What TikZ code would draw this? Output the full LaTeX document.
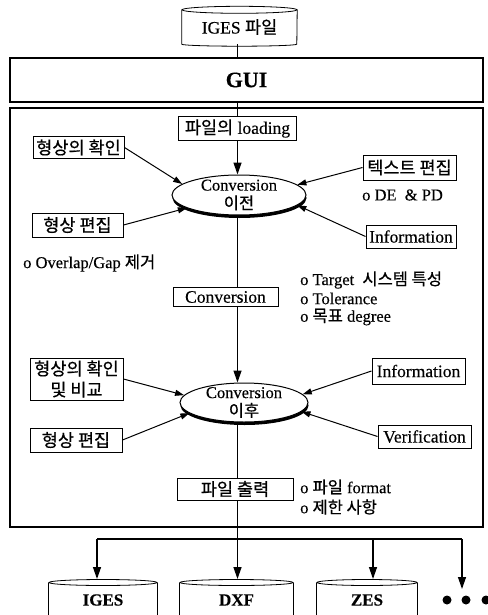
\documentclass[tikz,border=0pt]{standalone}
\usepackage{fontspec}
\setmainfont[FakeBold=0.35]{Liberation Serif}
\newfontfamily\krfont[FakeBold=0.6]{Noto Sans CJK KR}
\newcommand\ko[1]{{\krfont #1}}
\usetikzlibrary{arrows.meta,shapes.geometric,shadows}
\begin{document}
\begin{tikzpicture}[x=1pt,y=-1pt,
  lbl/.style={font=\fontsize{16.5}{18}\selectfont, inner sep=0pt, anchor=west},
  smallbox/.style={draw, line width=1pt, inner sep=0pt, align=center,
    font=\fontsize{17.5}{21}\selectfont},
  bigbox/.style={draw, line width=2pt, inner sep=0pt},
  disc/.style={ellipse, draw, line width=1pt, fill=white, inner sep=0pt,
    drop shadow={shadow xshift=0.5pt, shadow yshift=-3pt, fill=black, opacity=1}},
  disctext/.style={align=center, font=\fontsize{16.5}{18.5}\selectfont, inner sep=0pt},
  cyltext/.style={inner sep=0pt, font=\bfseries\fontsize{17}{19}\selectfont},
  conn/.style={line width=1pt},
  arr/.style={line width=1pt, -{Triangle[length=9pt,width=6pt]}},
  bigarr/.style={line width=1.3pt, -{Triangle[length=12pt,width=8pt]}},
]
\useasboundingbox (0,0) rectangle (487,615);

% top cylinder
\node[cyltext, font=\fontsize{17.5}{19}\selectfont, minimum width=115pt, minimum height=34pt] (iges) at (239.5,27) {IGES\ \ko{파일}};
\draw[line width=0.8pt] (iges.north) ellipse [x radius=57.5, y radius=3.5];
\draw[line width=0.8pt] (iges.north west) -- (iges.south west)
  arc [start angle=180, end angle=0, x radius=57.5, y radius=2]
  -- (iges.north east);

% GUI and frame
\node[bigbox, minimum width=473pt, minimum height=44pt,
  font=\bfseries\fontsize{22}{24}\selectfont] (gui) at (246.5,80) {GUI};
\node[bigbox, minimum width=473pt, minimum height=419pt] (frame) at (246.5,317.5) {};

% boxes
\node[smallbox, minimum width=118pt, minimum height=23pt] (load) at (237.5,128.5) {\ko{파일의} loading};
\node[smallbox, minimum width=91pt, minimum height=22pt] (chk1) at (78.5,147.5) {\ko{형상의 확인}};
\node[smallbox, minimum width=93pt, minimum height=25pt] (txt) at (409.5,167.5) {\ko{텍스트 편집}};
\node[smallbox, minimum width=91pt, minimum height=24pt] (edit1) at (77.5,225) {\ko{형상 편집}};
\node[smallbox, minimum width=90pt, minimum height=23pt] (info1) at (411,236.5) {Information};
\node[smallbox, minimum width=105pt, minimum height=19pt] (conv) at (225.5,297) {Conversion};
\node[smallbox, minimum width=93pt, minimum height=42pt] (chk2) at (76.5,379) {\ko{형상의 확인}\\\ko{및 비교}};
\node[smallbox, minimum width=92pt, minimum height=24pt] (edit2) at (76,440) {\ko{형상 편집}};
\node[smallbox, minimum width=93pt, minimum height=26pt] (info2) at (418.5,371) {Information};
\node[smallbox, minimum width=93pt, minimum height=23pt] (veri) at (424.5,436.5) {Verification};
\node[smallbox, minimum width=116pt, minimum height=22pt] (fo) at (235,489) {\ko{파일 출력}};

% discs
\node[disc, minimum width=134pt, minimum height=40pt] (e1) at (239,195) {};
\node[disctext] (e1t) at (e1) {Conversion\\\ko{이전}};
\node[disc, minimum width=128pt, minimum height=39pt] (e2) at (244,402.5) {};
\node[disctext] (e2t) at (e2) {Conversion\\\ko{이후}};

% free texts
\node[lbl] (dep) at (362,195) {o DE\ \ \& PD};
\node[lbl] (ovl) at (23,263) {o Overlap/Gap \ko{제거}};
\node[lbl] (tg1) at (300,280) {o Target\ \ \ko{시스템 특성}};
\node[lbl] (tg2) at (300,298.5) {o Tolerance};
\node[lbl] (tg3) at (300,317) {o \ko{목표} degree};
\node[lbl] (fm1) at (300,487) {o \ko{파일} format};
\node[lbl] (fm2) at (300,507) {o \ko{제한 사항}};

% spine
\draw[conn] (iges.south -| load) -- (gui.north -| load);
\draw[conn] (gui.south -| load) -- (load.north);
\draw[bigarr] (load.south) -- (load.south |- e1.north);
\draw[conn] (e1.south -| load) -- (conv.north -| load);
\draw[bigarr] (conv.south -| load) -- (e2.north -| load);
\draw[conn] (e2.south -| load) -- (fo.north -| load);

% side arrows
\draw[arr] (chk1.east) -- (e1.169);
\draw[arr] (edit1.east) -- (e1.194);
\draw[arr] (txt.west) -- (e1.10);
\draw[arr] (info1.west) -- (e1.350);
\draw[arr] (chk2.east) -- (e2.173);
\draw[arr] (edit2.east) -- (e2.191);
\draw[arr] (info2.west) -- (e2.8);
\draw[arr] (veri.west) -- (e2.351);

% output distribution
\coordinate (hub) at (237.5,539);
\coordinate (h1) at (97,539);
\coordinate (h3) at (373,539);
\coordinate (h4) at (462,539);
\draw[line width=1.3pt] (fo.south -| load) -- (hub);
\draw[line width=1.3pt] (h1) -- (h4);

% output cylinders
\node[cyltext, minimum width=108pt] (o1) at (103,600) {IGES};
\node[cyltext, minimum width=113pt] (o2) at (236.5,600) {DXF};
\node[cyltext, minimum width=100pt] (o3) at (367,600) {ZES};
\foreach \c/\r in {o1/54, o2/56.5, o3/50}{
  \draw[line width=0.8pt] (\c.center |- 0,582.5) ellipse [x radius=\r, y radius=3];
  \draw[line width=0.8pt] (\c.west |- 0,582.5) -- (\c.west |- 0,616);
  \draw[line width=0.8pt] (\c.east |- 0,582.5) -- (\c.east |- 0,616);
}
\node[circle, fill, inner sep=0pt, minimum size=9pt] (d1) at (447,600) {};
\node[circle, fill, inner sep=0pt, minimum size=9pt] (d2) at (466,600) {};
\node[circle, fill, inner sep=0pt, minimum size=9pt] (d3) at (486,600) {};

\draw[bigarr] (h1) -- (h1 |- 0,579);
\draw[bigarr] (hub) -- (hub |- 0,579);
\draw[bigarr] (h3) -- (h3 |- 0,579);
\draw[bigarr] (h4) -- (h4 |- 0,589);
\end{tikzpicture}
\end{document}
